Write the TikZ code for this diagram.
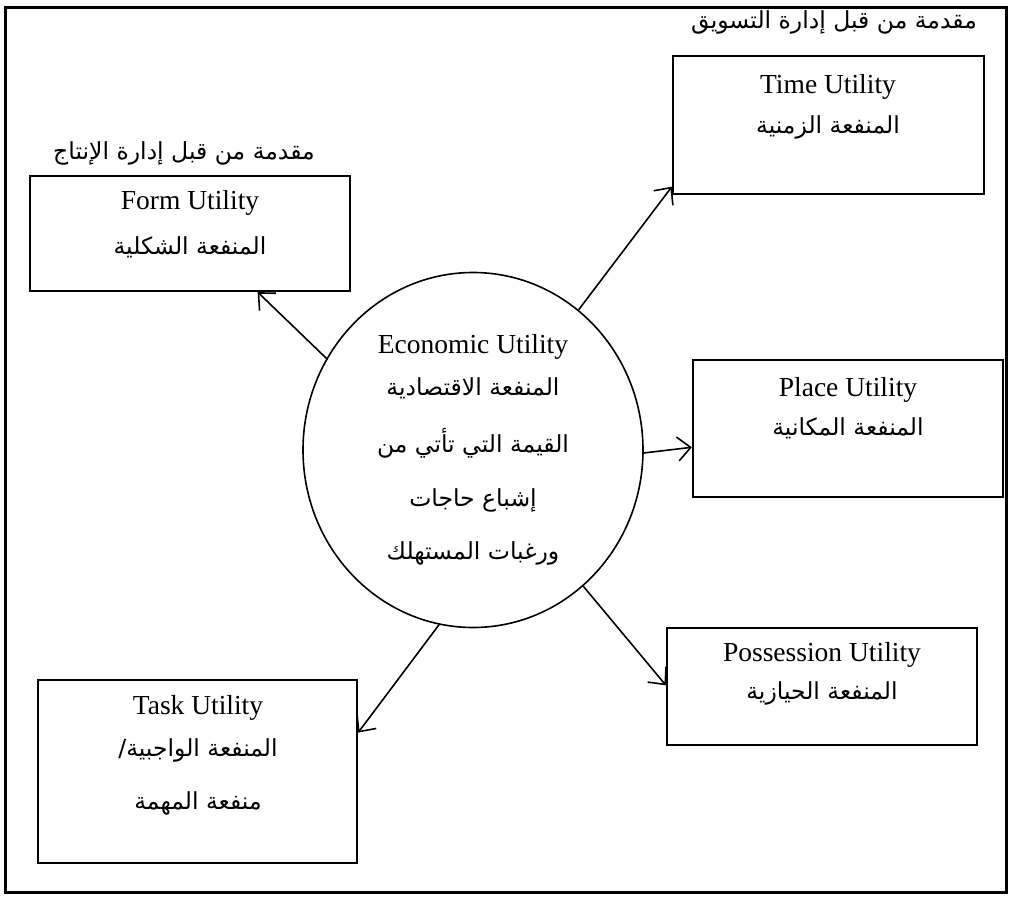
\documentclass[tikz,border=0pt]{standalone}
\usepackage{fontspec}
\setmainfont{Liberation Serif}
\newfontfamily\arabicfont[Script=Arabic]{DejaVu Sans}
\TeXXeTstate=1
\usetikzlibrary{shapes.geometric,arrows.meta,calc}
\tikzset{
  frame/.style={draw, line width=3pt},
  ubox/.style={draw, line width=2.2pt, rectangle, inner sep=0pt},
  latin/.style={font=\fontsize{27.5}{30}\selectfont, inner sep=0pt},
  arab/.style={font=\fontsize{23.5}{28}\selectfont\arabicfont, inner sep=0pt},
  arr/.style={line width=1.6pt, -{Straight Barb[length=13pt,width=24pt,line width=1.6pt]}}
}
\newcommand{\ar}[1]{\beginR #1\endR}
\begin{document}
\begin{tikzpicture}[x=1pt,y=-1pt]
\useasboundingbox (0,0) rectangle (1021,904);
\fill[white] (0,0) rectangle (1021,904);
% outer frame
\node[frame, rectangle, minimum width=1001pt, minimum height=884pt, inner sep=0pt] (outer) at (505.5,450) {};
% labels
\node[arab] (mkt) at (834,22) {\ar{مقدمة من قبل إدارة التسويق}};
\node[arab] (prod) at (184,153) {\ar{مقدمة من قبل إدارة الإنتاج}};
% boxes
\node[ubox, minimum width=311pt, minimum height=138pt] (time) at (828.5,125) {};
\node[ubox, minimum width=320pt, minimum height=115pt] (form) at (190,233.5) {};
\node[ubox, minimum width=310pt, minimum height=137pt] (place) at (848,428.5) {};
\node[ubox, minimum width=310pt, minimum height=117pt] (poss) at (822,686.5) {};
\node[ubox, minimum width=319pt, minimum height=183pt] (task) at (197.5,771.5) {};
% centre ellipse
\node[draw, line width=1.6pt, ellipse, minimum width=340pt, minimum height=355pt, inner sep=0pt] (eco) at (473,450) {};
% texts
\node[latin] (timeL) at (828,87) {Time Utility};
\node[arab] (timeA) at (828,127) {\ar{المنفعة الزمنية}};
\node[latin] (formL) at (190,203) {Form Utility};
\node[arab] (formA) at (190,247) {\ar{المنفعة الشكلية}};
\node[latin] (placeL) at (848,390) {Place Utility};
\node[arab] (placeA) at (848,428) {\ar{المنفعة المكانية}};
\node[latin] (possL) at (822,655) {Possession Utility};
\node[arab] (possA) at (822,693) {\ar{المنفعة الحيازية}};
\node[latin] (taskL) at (198,708) {Task Utility};
\node[arab] (taskA1) at (198,750) {\ar{المنفعة الواجبية/}};
\node[arab] (taskA2) at (198,803) {\ar{منفعة المهمة}};
\node[latin] (ecoL) at (473,347) {Economic Utility};
\node[arab] (ecoA1) at (473,388) {\ar{المنفعة الاقتصادية}};
\node[arab] (ecoA2) at (473,443) {\ar{القيمة التي تأتي من}};
\node[arab] (ecoA3) at (473,500) {\ar{إشباع حاجات}};
\node[arab] (ecoA4) at (473,553) {\ar{ورغبات المستهلك}};
% arrow targets
\coordinate (formT) at ($(form.south west)!0.71!(form.south east)$);
\coordinate (timeT) at ($(time.south west)!0.06!(time.north west)$);
\coordinate (placeT) at ($(place.north west)!0.635!(place.south west)$);
\coordinate (possT) at ($(poss.north west)!0.49!(poss.south west)$);
\coordinate (taskT) at ($(task.north east)!0.29!(task.south east)$);
% arrows
\draw[arr] (eco.148.7) -- (formT);
\draw[arr] (eco.53.2) -- (timeT);
\draw[arr] (eco.-1) -- (placeT);
\draw[arr] (eco.-51.8) -- (possT);
\draw[arr] (eco.-101.6) -- (taskT);
\end{tikzpicture}
\end{document}
